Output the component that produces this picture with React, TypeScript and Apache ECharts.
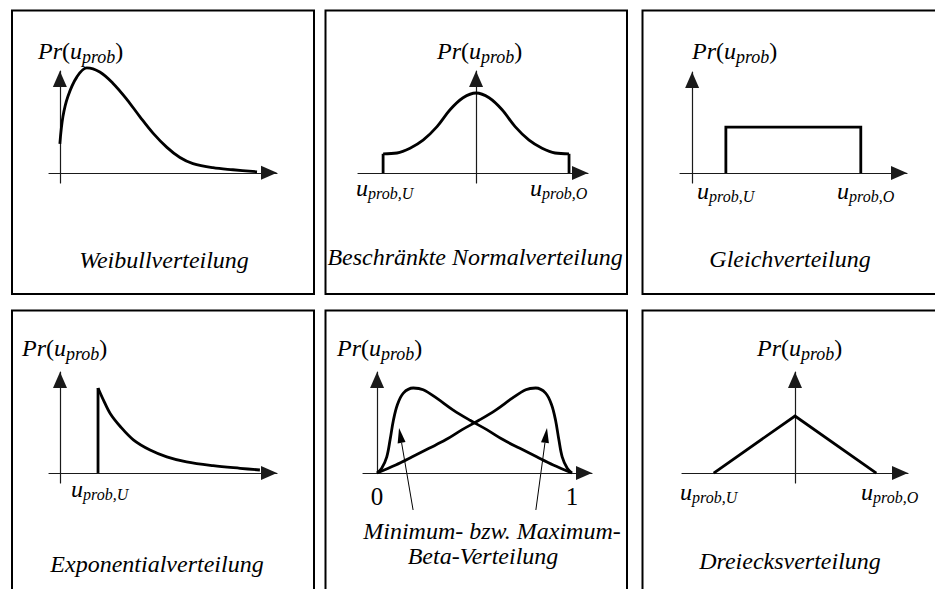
import { useEffect, useRef } from "react";
import * as echarts from "echarts";

const FONT = "Liberation Serif";

// ---- Weibullverteilung ----
const weibullX = [0, 0.14, 0.37, 0.78, 1.24, 1.84, 2.44, 3.09, 3.69, 4.29, 4.93, 5.53, 6.13, 7.05, 7.97, 9.08];
const weibullY = [0.285, 0.55, 0.75, 0.94, 1.03, 0.99, 0.88, 0.72, 0.55, 0.39, 0.25, 0.15, 0.09, 0.05, 0.03, 0.01];

// ---- Beschränkte Normalverteilung (cut at u_prob,U = -1 and u_prob,O = 1) ----
const normalBounds = [-1, 1];
const normalX = [-1, -0.85, -0.71, -0.57, -0.42, -0.28, -0.14, 0, 0.14, 0.28, 0.42, 0.57, 0.71, 0.85, 1];
const normalY = [0.24, 0.25, 0.31, 0.41, 0.58, 0.79, 0.94, 1.0, 0.94, 0.79, 0.58, 0.41, 0.31, 0.25, 0.24];

// ---- Gleichverteilung ----
const uniformX = [1, 1, 5, 5];
const uniformY = [0, 0.25, 0.25, 0];

// ---- Exponentialverteilung (starting at u_prob,U = 1) ----
const expoStart = 1;
const expoX = [1, 1.14, 1.32, 1.58, 1.93, 2.37, 2.81, 3.33, 4.03, 4.74, 5.26];
const expoY = [1.0, 0.86, 0.7, 0.55, 0.39, 0.27, 0.19, 0.13, 0.086, 0.055, 0.035];

// ---- Minimum- bzw. Maximum-Beta-Verteilung on [0, 1] ----
const betaMinX = [0, 0.024, 0.05, 0.067, 0.084, 0.104, 0.135, 0.186, 0.237, 0.306, 0.391, 0.477, 0.563, 0.648, 0.733, 0.819, 0.904, 1.0];
const betaMinY = [0, 0.055, 0.19, 0.39, 0.62, 0.8, 0.94, 1.0, 0.98, 0.88, 0.74, 0.62, 0.51, 0.39, 0.29, 0.19, 0.094, 0];
const betaMaxX = [0, 0.096, 0.181, 0.267, 0.352, 0.437, 0.523, 0.609, 0.694, 0.763, 0.814, 0.865, 0.896, 0.916, 0.933, 0.95, 0.976, 1.0];
const betaMaxY = [0, 0.094, 0.19, 0.29, 0.39, 0.51, 0.62, 0.74, 0.88, 0.98, 1.0, 0.94, 0.8, 0.62, 0.39, 0.19, 0.055, 0];
const betaTickValues = [0, 1];
const betaTickLabels = ["0", "1"];

// ---- Dreiecksverteilung ----
const triangleX = [-1, 0, 1];
const triangleY = [0, 1, 0];

// ---- texts ----
const titles = [
  "Weibullverteilung",
  "Beschränkte Normalverteilung",
  "Gleichverteilung",
  "Exponentialverteilung",
  "Minimum- bzw. Maximum-",
  "Beta-Verteilung",
  "Dreiecksverteilung",
];

const zip = (xs: number[], ys: number[]) => xs.map((x, i) => [x, ys[i]]);

// grid boxes (pixels) and axis ranges (data units) of the six panels
const panels = [
  { grid: { left: 49, top: 71, width: 228, height: 112 }, x: [-0.5, 10], y: [-0.1, 1.0] },
  { grid: { left: 358, top: 71, width: 230, height: 112 }, x: [-1.27, 1.204], y: [-0.125, 1.275] },
  { grid: { left: 680, top: 72, width: 227, height: 111 }, x: [-0.36, 6.37], y: [-0.054, 0.549] },
  { grid: { left: 49, top: 372, width: 228, height: 111 }, x: [-0.29, 5.71], y: [-0.118, 1.188] },
  { grid: { left: 363, top: 372, width: 229, height: 101 }, x: [-0.072, 1.103], y: [0, 1.188] },
  { grid: { left: 682, top: 372, width: 226, height: 111 }, x: [-1.39, 1.39], y: [-0.175, 1.772] },
];

// frames around the panels
const frames = [
  { x: 12, y: 10.5, w: 302, h: 283.5 },
  { x: 325.5, y: 10.5, w: 301.5, h: 283.5 },
  { x: 642.5, y: 10.5, w: 310, h: 283.5 },
  { x: 12, y: 310.5, w: 302, h: 300 },
  { x: 325.5, y: 310.5, w: 301.5, h: 300 },
  { x: 642.5, y: 310.5, w: 310, h: 300 },
];

// left x and baseline of the "Pr(u_prob)" labels
const prLabelPos = [
  [38, 59], [437, 59], [692, 59],
  [22, 356], [337, 356], [757, 356],
];

// bound labels: [kind, left x, baseline]
const boundLabelPos: [string, number, number][] = [
  ["U", 356, 196], ["O", 530, 196],
  ["U", 697, 199], ["O", 837, 199],
  ["U", 71, 497],
  ["U", 680, 500], ["O", 861, 500],
];

// title centres: [x, baseline]
const titlePos = [
  [164, 268], [475, 265], [790, 267], [157, 572], [492, 539], [483, 564], [790, 569],
];

// beta pointer arrows in panel 5 data units: [from, to]
const betaPointers = [
  [[0.185, -0.435], [0.113, 0.53]],
  [[0.815, -0.435], [0.872, 0.53]],
];

const MAIN = 24;
const SUB = 18;
const SUB_B = 16;

const richStyles = {
  i: { fontFamily: FONT, fontStyle: "italic", fontSize: MAIN, fill: "#000" },
  n: { fontFamily: FONT, fontStyle: "normal", fontSize: MAIN, fill: "#000" },
  s: { fontFamily: FONT, fontStyle: "italic", fontSize: SUB, fill: "#000", padding: [13, 0, 0, 0] },
  b: { fontFamily: FONT, fontStyle: "italic", fontSize: SUB_B, fill: "#000", padding: [12, 0, 0, 0] },
};

const baseOff = (fs: number) => fs * 0.34;

function buildOption() {
  const xAxis: any[] = [];
  const yAxis: any[] = [];
  const grid: any[] = [];
  panels.forEach((p, i) => {
    grid.push({ ...p.grid, containLabel: false });
    const axisLine = {
      show: true,
      onZero: true,
      symbol: ["none", "triangle"],
      symbolSize: [14, 16],
      symbolOffset: [0, -8],
      lineStyle: { color: "#1a1a1a", width: 1.2 },
    };
    xAxis.push({
      type: "value", gridIndex: i, min: p.x[0], max: p.x[1],
      axisLine, axisTick: { show: false }, axisLabel: { show: false }, splitLine: { show: false },
    });
    yAxis.push({
      type: "value", gridIndex: i, min: p.y[0], max: p.y[1],
      axisLine, axisTick: { show: false }, axisLabel: { show: false }, splitLine: { show: false },
    });
  });

  const line = (idx: number, data: number[][], smooth: number | boolean, join = "round") => ({
    type: "line",
    xAxisIndex: idx,
    yAxisIndex: idx,
    data,
    smooth,
    symbol: "none",
    clip: false,
    silent: true,
    z: 3,
    lineStyle: { color: "#000", width: 2.8, cap: "butt", join },
  });

  const series: any[] = [
    line(0, zip(weibullX, weibullY), 0.35),
    line(1, [[normalBounds[0], 0], [normalBounds[0], normalY[0]]], false, "miter"),
    line(1, zip(normalX, normalY), 0.35),
    line(1, [[normalBounds[1], normalY[normalY.length - 1]], [normalBounds[1], 0]], false, "miter"),
    line(2, zip(uniformX, uniformY), false, "miter"),
    line(3, [[expoStart, 0], [expoStart, expoY[0]]], false, "miter"),
    line(3, zip(expoX, expoY), 0.35),
    line(4, zip(betaMinX, betaMinY), 0.35),
    line(4, zip(betaMaxX, betaMaxY), 0.35),
    line(5, zip(triangleX, triangleY), false, "miter"),
  ];

  const graphic: any[] = [];
  frames.forEach((f, i) =>
    graphic.push({
      id: "frame" + i,
      type: "rect",
      shape: { x: f.x, y: f.y, width: f.w, height: f.h },
      style: { fill: "none", stroke: "#000", lineWidth: 2 },
      silent: true,
    })
  );
  prLabelPos.forEach(([x, b], i) =>
    graphic.push({
      id: "pr" + i,
      type: "text",
      x,
      y: b - baseOff(MAIN),
      style: {
        text: "{i|Pr}{n|(}{i|u}{s|prob}{n|)}",
        rich: richStyles,
        align: "left",
        verticalAlign: "middle",
      },
      silent: true,
    })
  );
  boundLabelPos.forEach(([k, x, b], i) =>
    graphic.push({
      id: "bound" + i,
      type: "text",
      x,
      y: b - baseOff(MAIN),
      style: {
        text: "{i|u}{b|prob," + k + "}",
        rich: richStyles,
        align: "left",
        verticalAlign: "middle",
      },
      silent: true,
    })
  );
  titles.forEach((t, i) =>
    graphic.push({
      id: "title" + i,
      type: "text",
      x: titlePos[i][0],
      y: titlePos[i][1] - baseOff(MAIN),
      style: {
        text: t,
        font: "italic " + MAIN + "px " + FONT,
        fill: "#000",
        align: "center",
        verticalAlign: "middle",
      },
      silent: true,
    })
  );

  return { animation: false, grid, xAxis, yAxis, series, graphic };
}

export default function App() {
  const ref = useRef<HTMLDivElement>(null);
  useEffect(() => {
    if (!ref.current) return;
    const chart = echarts.init(ref.current, undefined, { renderer: "svg" });
    chart.setOption(buildOption());

    // pointer arrows and 0/1 labels of the beta panel, placed through its scales
    const extra: any[] = [];
    betaPointers.forEach(([from, to], i) => {
      const p0 = chart.convertToPixel({ gridIndex: 4 } as any, from) as number[];
      const p1 = chart.convertToPixel({ gridIndex: 4 } as any, to) as number[];
      const dx = p1[0] - p0[0];
      const dy = p1[1] - p0[1];
      const len = Math.hypot(dx, dy);
      const ux = dx / len;
      const uy = dy / len;
      const headL = 15;
      const headW = 4;
      const bx = p1[0] - ux * headL;
      const by = p1[1] - uy * headL;
      extra.push({
        id: "ptrLine" + i,
        type: "line",
        shape: { x1: p0[0], y1: p0[1], x2: bx, y2: by },
        style: { stroke: "#000", lineWidth: 1 },
        silent: true,
      });
      extra.push({
        id: "ptrHead" + i,
        type: "polygon",
        shape: {
          points: [
            [p1[0], p1[1]],
            [bx - uy * headW, by + ux * headW],
            [bx + uy * headW, by - ux * headW],
          ],
        },
        style: { fill: "#000" },
        silent: true,
      });
    });
    betaTickValues.forEach((v, i) => {
      const p = chart.convertToPixel({ gridIndex: 4 } as any, [v, 0]) as number[];
      extra.push({
        id: "betaTick" + i,
        type: "text",
        x: p[0],
        y: p[1] + 32 - baseOff(25),
        style: {
          text: betaTickLabels[i],
          font: "25px " + FONT,
          fill: "#000",
          align: "center",
          verticalAlign: "middle",
        },
        silent: true,
      });
    });
    chart.setOption({ graphic: extra });

    return () => chart.dispose();
  }, []);
  return (
    <div
      ref={ref}
      style={{ position: "fixed", left: 0, top: 0, width: 935, height: 589, background: "#fff" }}
    />
  );
}
